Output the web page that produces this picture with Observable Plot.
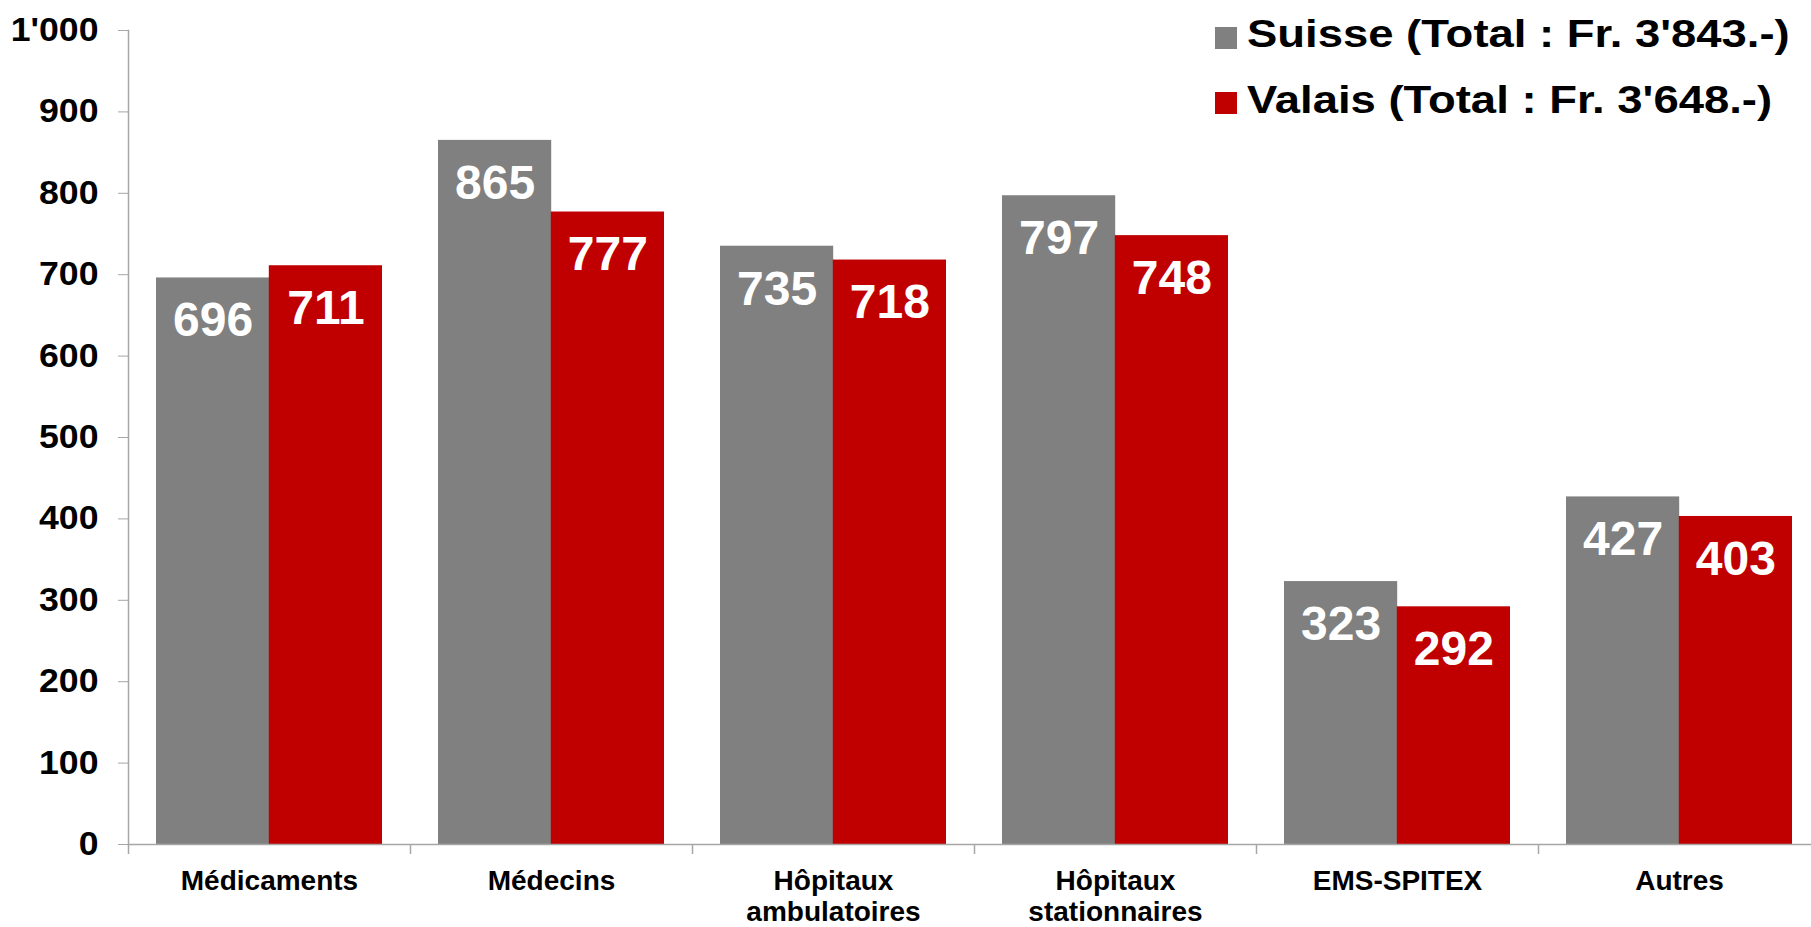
<!DOCTYPE html>
<html><head><meta charset="utf-8">
<script src="https://cdn.jsdelivr.net/npm/d3@7"></script>
<script src="https://cdn.jsdelivr.net/npm/@observablehq/plot@0.6"></script>
<style>
body{margin:0;background:#fff;}
#wrap{position:relative;width:1811px;height:927px;font-family:"Liberation Sans",Arial,sans-serif;}
.sw{position:absolute;width:22px;height:22px;}
.lt{position:absolute;font-size:39px;font-weight:bold;line-height:39px;white-space:nowrap;color:#000;transform:scaleX(1.165);transform-origin:left center;}
</style></head>
<body><div id="wrap"></div>
<script>
// ---- data ----
const categories = ["Médicaments", "Médecins", "Hôpitaux\nambulatoires", "Hôpitaux\nstationnaires", "EMS-SPITEX", "Autres"];
const seriesNames = ["Suisse", "Valais"];
const suisse = [696, 865, 735, 797, 323, 427];
const valais = [711, 777, 718, 748, 292, 403];
const legendLabels = ["Suisse (Total : Fr. 3'843.-)", "Valais (Total : Fr. 3'648.-)"];
const yTicks = [0, 100, 200, 300, 400, 500, 600, 700, 800, 900, 1000];
const colors = ["#808080", "#C00000"];

const rowsS = categories.map((c, i) => ({cat: c, series: seriesNames[0], value: suisse[i]}));
const rowsV = categories.map((c, i) => ({cat: c, series: seriesNames[1], value: valais[i]}));

// ---- layout ----
const W = 1811, H = 927, mL = 128, mR = -9, mT = 30, mB = 83;
const step = (W - mL - mR) / categories.length;
const bw = step * 0.8;
const axisColor = "#a6a6a6";
const fmt = d => d >= 1000 ? d3.format(",")(d).replace(/,/g, "'") : String(d);

const chart = Plot.plot({
  width: W, height: H,
  marginLeft: mL, marginRight: 0, marginTop: mT, marginBottom: mB,
  style: {fontFamily: '"Liberation Sans", Arial, sans-serif', background: "white", overflow: "visible"},
  x: {domain: categories, range: [mL, W - mR], paddingInner: 0.2, paddingOuter: 0.1, label: null},
  y: {domain: [0, 1000], label: null},
  marks: [
    Plot.barY(rowsS, {x: "cat", y: "value", fill: colors[0], insetRight: bw / 2}),
    Plot.barY(rowsV, {x: "cat", y: "value", fill: colors[1], insetLeft: bw / 2}),
    Plot.ruleY([0], {stroke: axisColor, strokeWidth: 1.5}),
    Plot.frame({anchor: "left", stroke: axisColor, strokeWidth: 1.5}),
    Plot.ruleX(categories, {x: d => d, dx: -step / 2, y1: 0, y2: -12.3, stroke: axisColor, strokeWidth: 1.5}),
    Plot.axisY({ticks: yTicks, tickSize: 10, tickPadding: 20, tickFormat: fmt,
      fontSize: 33, fontWeight: "bold", stroke: axisColor, fill: "black", label: null}),
    Plot.axisX({tickSize: 0, tickPadding: 24, fontSize: 28, fontWeight: "bold",
      lineHeight: 1.1, fill: "black", label: null}),
    Plot.text(rowsS, {x: "cat", y: "value", text: d => String(d.value), dx: -bw / 4, dy: 43,
      fill: "white", fontSize: 48, fontWeight: "bold"}),
    Plot.text(rowsV, {x: "cat", y: "value", text: d => String(d.value), dx: bw / 4, dy: 43,
      fill: "white", fontSize: 48, fontWeight: "bold"})
  ]
});

const wrap = document.getElementById("wrap");
wrap.appendChild(chart);

// slightly widen the y tick labels (reference uses a horizontally stretched bold face)
d3.select(chart).selectAll('g[aria-label="y-axis tick label"] text').each(function() {
  const len = this.getComputedTextLength();
  this.setAttribute("textLength", (len * 1.08).toFixed(1));
  this.setAttribute("lengthAdjust", "spacingAndGlyphs");
});

// legend (overlaid top-right)
const swTops = [27, 92];
const textTops = [14, 80];
legendLabels.forEach((lab, i) => {
  const sw = document.createElement("div");
  sw.className = "sw";
  sw.style.left = "1215px";
  sw.style.top = swTops[i] + "px";
  sw.style.background = colors[i];
  wrap.appendChild(sw);
  const t = document.createElement("div");
  t.className = "lt";
  t.style.left = "1247px";
  t.style.top = textTops[i] + "px";
  t.textContent = lab;
  wrap.appendChild(t);
});
</script>
</body></html>
